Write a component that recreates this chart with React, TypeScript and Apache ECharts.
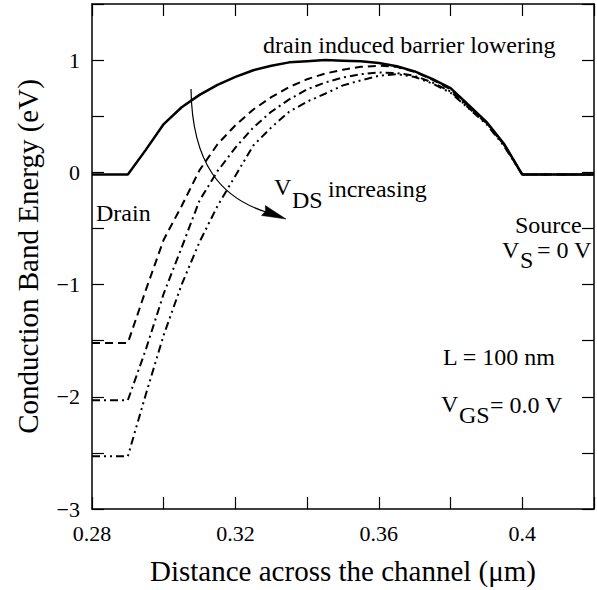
import React, { useEffect, useRef } from "react";
import * as echarts from "echarts";

// x positions (μm)
const xs = [0.28, 0.29, 0.295, 0.3, 0.305, 0.31, 0.315, 0.32, 0.325, 0.33, 0.335, 0.34, 0.345, 0.35, 0.355, 0.36, 0.365, 0.37, 0.375, 0.38, 0.385, 0.39, 0.395, 0.4, 0.42];
// conduction band energy (eV) for increasing V_DS
const solidE = [-0.02, -0.02, 0.2, 0.43, 0.58, 0.69, 0.78, 0.85, 0.91, 0.95, 0.98, 0.99, 1.0, 0.995, 0.99, 0.975, 0.945, 0.9, 0.83, 0.75, 0.6, 0.45, 0.25, -0.02, -0.02];
const dashedE = [-1.52, -1.52, -1.05, -0.6, -0.3, 0.02, 0.25, 0.42, 0.56, 0.67, 0.76, 0.83, 0.88, 0.915, 0.94, 0.95, 0.94, 0.895, 0.825, 0.74, 0.59, 0.445, 0.245, -0.02, -0.02];
const dashDotE = [-2.03, -2.03, -1.58, -1.08, -0.67, -0.25, 0.01, 0.22, 0.4, 0.54, 0.65, 0.74, 0.8, 0.845, 0.875, 0.89, 0.885, 0.86, 0.8, 0.72, 0.575, 0.44, 0.24, -0.02, -0.02];
const dashDotDotE = [-2.53, -2.53, -1.98, -1.45, -1.0, -0.62, -0.3, -0.03, 0.24, 0.4, 0.54, 0.63, 0.7, 0.775, 0.82, 0.86, 0.875, 0.85, 0.79, 0.71, 0.57, 0.43, 0.23, -0.02, -0.02];

const xMajorLabels = [0.28, 0.32, 0.36, 0.4];
const yMajorLabels = [-3, -2, -1, 0, 1];

const FONT = "Liberation Serif";
const FS = 24;

function t(x: number, base: number, s: string) {
  return {
    type: "text",
    x,
    y: base - FS * 0.3375,
    z: 100,
    style: {
      text: s,
      fill: "#000",
      font: `${FS}px "${FONT}"`,
      textAlign: "left",
      align: "left",
      textVerticalAlign: "middle",
      verticalAlign: "middle",
    },
  };
}

export default function App() {
  const ref = useRef<HTMLDivElement>(null);
  useEffect(() => {
    document.body.style.margin = "0";
    const chart = echarts.init(ref.current!, null, { renderer: "svg" });
    const pair = (ys: number[]) => xs.map((x, i) => [x, ys[i]]);
    const axisCommon = {
      axisLine: { show: true, onZero: false, lineStyle: { color: "#000", width: 1.5 } },
      axisTick: { show: true, inside: true, length: 12, lineStyle: { color: "#000", width: 1.2 } },
      splitLine: { show: false },
    };
    const xFmt = (v: number) => {
      const k = Math.round(v * 100);
      return xMajorLabels.some((m) => Math.round(m * 100) === k) ? String(k / 100) : "";
    };
    const yFmt = (v: number) => {
      const m = yMajorLabels.find((q) => Math.abs(q - v) < 1e-6);
      if (m === undefined) return "";
      return m < 0 ? "\u2212" + Math.abs(m) : String(m);
    };
    const mk = (ys: number[], width: number, type: any) => ({
      type: "line",
      data: pair(ys),
      showSymbol: false,
      symbol: "none",
      lineStyle: { color: "#000", width, type },
      xAxisIndex: 0,
      yAxisIndex: 0,
    });
    chart.setOption({
      animation: false,
      grid: { left: 92, top: 4, right: -8, bottom: 73 },
      xAxis: [
        {
          type: "value",
          min: 0.28,
          max: 0.42,
          interval: 0.02,
          position: "bottom",
          ...axisCommon,
          axisLabel: { formatter: xFmt, fontFamily: FONT, fontSize: 22, color: "#000", margin: 13 },
          name: "Distance across the channel (\u03bcm)",
          nameLocation: "middle",
          nameGap: 47,
          nameTextStyle: { fontFamily: FONT, fontSize: 29, color: "#000" },
        },
        {
          type: "value",
          min: 0.28,
          max: 0.42,
          interval: 0.02,
          position: "top",
          ...axisCommon,
          axisLabel: { show: false },
        },
      ],
      yAxis: [
        {
          type: "value",
          min: -3,
          max: 1.5,
          interval: 0.5,
          position: "left",
          ...axisCommon,
          axisLabel: { formatter: yFmt, fontFamily: FONT, fontSize: 22, color: "#000", margin: 12 },
          name: "Conduction Band Energy (eV)",
          nameLocation: "middle",
          nameGap: 50,
          nameTextStyle: { fontFamily: FONT, fontSize: 29, color: "#000" },
        },
        {
          type: "value",
          min: -3,
          max: 1.5,
          interval: 0.5,
          position: "right",
          ...axisCommon,
          axisLabel: { show: false },
        },
      ],
      series: [
        mk(solidE, 2.5, "solid"),
        mk(dashedE, 2, [8, 5]),
        mk(dashDotE, 2, [8, 4, 2, 4]),
        mk(dashDotDotE, 2, [8, 4, 2, 4, 2, 4]),
      ],
      graphic: [
        t(263, 53, "drain induced barrier lowering"),
        t(96, 221, "Drain"),
        t(274, 195, "V"),
        t(292, 208, "DS"),
        t(328, 197, "increasing"),
        t(515, 233, "Source"),
        t(502, 258, "V"),
        t(520, 268, "S"),
        t(537, 258, "= 0 V"),
        t(443, 365, "L = 100 nm"),
        t(441, 412, "V"),
        t(459, 423, "GS"),
        t(490, 413, "= 0.0 V"),
        {
          type: "bezierCurve",
          z: 100,
          shape: { x1: 191, y1: 89, cpx1: 192, cpy1: 165, cpx2: 222, cpy2: 198, x2: 266, y2: 212 },
          style: { stroke: "#000", lineWidth: 1.2, fill: null },
        },
        {
          type: "polygon",
          z: 100,
          shape: { points: [[286, 219], [261.5, 215.5], [265.5, 211.3], [265.3, 205.5]] },
          style: { fill: "#000", stroke: "#000", lineWidth: 0.5 },
        },
      ],
    });
    return () => chart.dispose();
  }, []);
  return <div ref={ref} style={{ width: 597, height: 590 }} />;
}
